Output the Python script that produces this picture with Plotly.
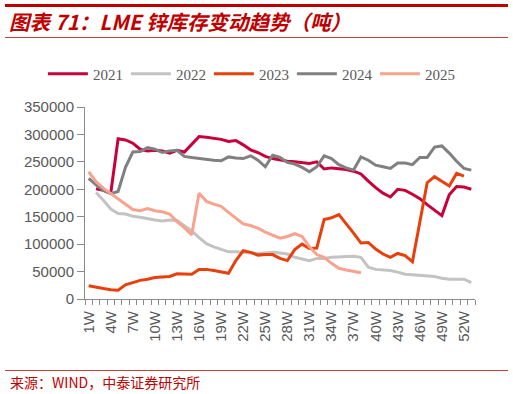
import plotly.graph_objects as go

weeks = list(range(1, 54))
tick_weeks = list(range(1, 53, 3))
tick_labels = [f"{w}W" for w in tick_weeks]

k = 1000
s2021 = [None, 201, 198, 193, 292, 290, 284, 273, 270, 271, 270,
         266, 271, 268, 283, 296, 295, 293, 291, 287, 289,
         281, 272, 267, 260, 256, 253, 251, 250, 249, 247,
         250, 237, 239, 238, 236, 233, 228, 215, 203, 193,
         186, 200, 198, 191, 183, 172, 162, 152, 190, 205,
         204, 200]
s2022 = [None, 194, 180, 164, 156, 155, 151, 149, 146, 144, 142,
         144, 143, 134, 124, 112, 101, 95, 90, 86, 86,
         85, 84, 83, 84, 85, 84, 82, 76, 73, 70,
         74, 74, 76, 77, 78, 78, 76, 58, 54, 53,
         52, 49, 45, 44, 43, 43, 41, 38, 36, 36,
         36, 30]
s2023 = [24, 21, 19, 17, 16, 26, 30, 34, 36, 39,
         40, 41, 46, 46, 45, 54, 54, 52, 49, 47,
         70, 88, 85, 80, 81, 81, 74, 70, 90, 100,
         92, 93, 145, 148, 154, 138, 120, 102, 103, 91,
         82, 76, 83, 79, 68, 140, 212, 223, 215, 206,
         229, 224, None]
s2024 = [220, 208, 198, 192, 196, 240, 268, 269, 276, 273,
         267, 270, 271, 260, 258, 256, 255, 253, 252, 259,
         257, 256, 261, 253, 241, 262, 258, 249, 246, 240,
         232, 241, 261, 256, 245, 239, 235, 259, 253, 244,
         241, 238, 248, 248, 245, 258, 258, 277, 279, 266,
         251, 238, 235]
s2025 = [232, 214, 202, 192, 183, 173, 163, 161, 165, 161,
         159, 155, 141, 130, 117, 193, 178, 173, 169, 158,
         147, 137, 134, 129, 122, 116, 111, 114, 119, 114,
         95, 81, 76, 65, 56, 53, 50, 48]

series = [
    ("2021", s2021, "#C8003C"),
    ("2022", s2022, "#C3C3C3"),
    ("2023", s2023, "#E8400C"),
    ("2024", s2024, "#808080"),
    ("2025", s2025, "#F8A38E"),
]

fig = go.Figure()
for name, vals, color in series:
    y = [v * k if v is not None else None for v in vals]
    fig.add_trace(go.Scatter(x=weeks[:len(y)], y=y, mode="lines", name=name,
                             line=dict(color=color, width=3)))

axis_col = "#8C8C8C"
fig.update_layout(
    width=513, height=394,
    margin=dict(l=85, r=38, t=107, b=95, autoexpand=False),
    plot_bgcolor="white", paper_bgcolor="white",
    legend=dict(orientation="h", x=-0.108, xanchor="left", y=1.172, yanchor="middle",
                font=dict(family="Liberation Serif", size=15, color="#595959"),
                itemwidth=40, tracegroupgap=0, entrywidth=28, entrywidthmode="pixels"),
    xaxis=dict(range=[0.5, 53.5], tickmode="array", tickvals=tick_weeks, ticktext=tick_labels,
               tickangle=-90, ticks="outside", ticklen=5, tickcolor="rgba(0,0,0,0)",
               showline=True, linecolor=axis_col, linewidth=1, showgrid=False, zeroline=False,
               tickfont=dict(family="Liberation Sans", size=15, color="#595959"),
               minor=dict(tick0=0.5, dtick=1, ticks="outside", ticklen=5,
                          tickcolor=axis_col, showgrid=False)),
    yaxis=dict(range=[0, 350000], dtick=50000, tickformat="d", ticks="outside", ticklen=7,
               tickcolor=axis_col, showline=True, linecolor=axis_col, linewidth=1,
               showgrid=False, zeroline=False,
               tickfont=dict(family="Liberation Sans", size=15, color="#595959")),
)

def px_x(p):
    return (p - 85) / 390.0

def px_y(p):
    return (299 - p) / 192.0

red = "#C00000"
fig.add_annotation(xref="paper", yref="paper", x=px_x(7), y=px_y(21), xanchor="left", yanchor="middle",
                   text="图表 71：LME 锌库存变动趋势（吨）", showarrow=False,
                   font=dict(family="Noto Sans CJK SC", size=20.5, color=red, weight="bold", style="italic"))
fig.add_annotation(xref="paper", yref="paper", x=px_x(8), y=px_y(381.5), xanchor="left", yanchor="middle",
                   text="来源：WIND，中泰证券研究所", showarrow=False,
                   font=dict(family="Noto Sans CJK SC", size=14, color=red))
fig.add_shape(type="line", xref="paper", yref="paper", x0=px_x(5), x1=px_x(508), y0=px_y(5.5), y1=px_y(5.5),
              line=dict(color=red, width=3))
fig.add_shape(type="line", xref="paper", yref="paper", x0=px_x(5), x1=px_x(508), y0=px_y(37.5), y1=px_y(37.5),
              line=dict(color="#C84040", width=1))
fig.add_shape(type="line", xref="paper", yref="paper", x0=px_x(5), x1=px_x(508), y0=px_y(370.5), y1=px_y(370.5),
              line=dict(color="#C84040", width=1))

fig.write_html("out.html", config={"displayModeBar": False},
               post_script="document.body.style.margin='0';document.body.style.overflow='hidden';")
